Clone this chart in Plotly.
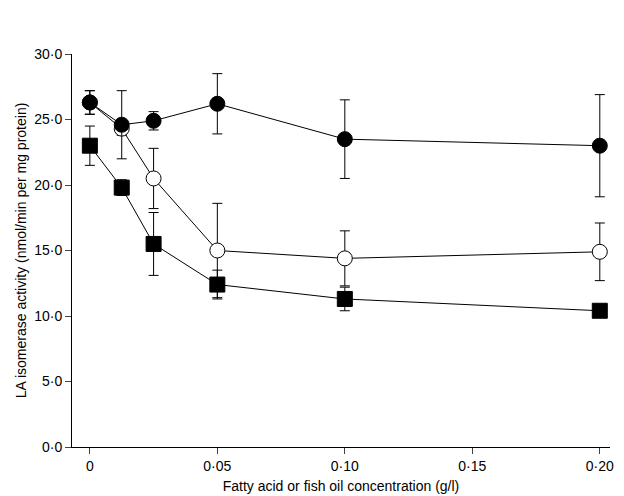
import plotly.graph_objects as go

conc = [0, 0.0125, 0.025, 0.05, 0.10, 0.20]
filled_vals = [26.3, 24.6, 24.9, 26.2, 23.5, 23.0]
filled_err = [0.9, 2.6, 0.7, 2.3, 3.0, 3.9]
open_vals = [26.3, 24.3, 20.5, 15.0, 14.4, 14.9]
open_err = [0.9, 0.5, 2.3, 3.6, 2.1, 2.2]
square_vals = [23.0, 19.8, 15.5, 12.4, 11.3, 10.4]
square_err = [1.5, 0.6, 2.4, 1.1, 0.9, 0.3]

y_ticks = [0, 5, 10, 15, 20, 25, 30]
x_ticks = [0, 0.05, 0.10, 0.15, 0.20]

fig = go.Figure()


def add_series(vals, err, symbol, fill):
    fig.add_trace(go.Scatter(
        x=conc, y=vals, mode='lines+markers',
        line=dict(color='black', width=1),
        marker=dict(symbol=symbol, size=15, color=fill, line=dict(color='black', width=1)),
        error_y=dict(type='data', array=err, color='black', thickness=1, width=5),
        showlegend=False,
    ))


add_series(square_vals, square_err, 'square', 'black')
add_series(open_vals, open_err, 'circle', 'white')
add_series(filled_vals, filled_err, 'circle', 'black')

fig.update_layout(
    width=624, height=496,
    margin=dict(l=62, r=22, t=46, b=40),
    paper_bgcolor='white', plot_bgcolor='white',
    font=dict(family='Liberation Sans, Arial, sans-serif', size=14, color='black'),
)
fig.update_xaxes(
    range=[-0.007, 0.204], tickvals=x_ticks,
    ticktext=['0', '0·05', '0·10', '0·15', '0·20'],
    tickfont=dict(size=14),
    showline=True, linecolor='black', ticks='outside', ticklen=6,
    showgrid=False, zeroline=False,
    title=dict(text='Fatty acid or fish oil concentration (g/l)', standoff=8, font=dict(size=14)),
)
fig.update_yaxes(
    range=[0, 30], tickvals=y_ticks,
    ticktext=[f'{v}·0' for v in y_ticks],
    tickfont=dict(size=14),
    showline=True, linecolor='black', ticks='outside', ticklen=6,
    showgrid=False, zeroline=False,
    title=dict(text='LA isomerase activity (nmol/min per mg protein)', standoff=4, font=dict(size=14)),
)

fig.write_html("out.html")
